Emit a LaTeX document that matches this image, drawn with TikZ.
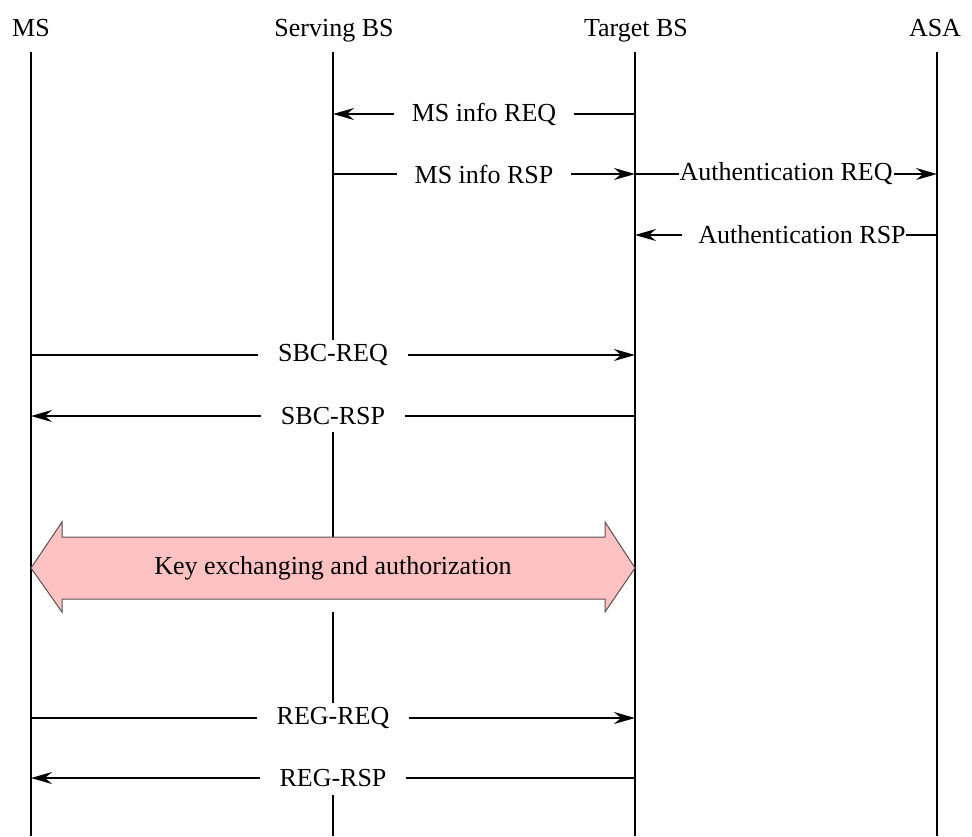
\documentclass[tikz,border=0pt]{standalone}
\usepackage{fontspec}
\setmainfont{Liberation Serif}
\usetikzlibrary{arrows.meta}
\definecolor{keypink}{RGB}{255,194,194}
\definecolor{keyedge}{RGB}{90,80,80}
\begin{document}
\begin{tikzpicture}[x=1pt,y=-1pt,line width=1.8pt,
  txt/.style={font=\fontsize{26}{30}\selectfont},
  head/.style={txt,inner sep=0pt,anchor=base},
  lbl/.style={txt,fill=white,inner xsep=18pt,inner ysep=2pt},
  msg/.style={draw,-{Stealth[length=21pt,width=12pt,inset=7pt]}},
  life/.style={draw,line width=1.8pt},
  keyarrow/.style={fill=keypink,draw=keyedge,line width=1pt,line join=miter}]
\useasboundingbox (0,0) rectangle (972,836);

% column headings
\node[head] (hms)  at (31,36)  {MS};
\node[head] (hsb)  at (334,36) {Serving BS};
\node[head] (htb)  at (636,36) {Target BS};
\node[head] (hasa) at (935,36) {ASA};

% lifelines
\coordinate (ms-top) at (31,52);   \coordinate (ms-bot) at (31,836);
\coordinate (tb-top) at (635,52);  \coordinate (tb-bot) at (635,836);
\coordinate (asa-top) at (937,52); \coordinate (asa-bot) at (937,836);
\draw[life] (ms-top) -- (ms-bot);
\draw[life] (tb-top) -- (tb-bot);
\draw[life] (asa-top) -- (asa-bot);
% serving BS lifeline, interrupted around the labels and the key exchange
\coordinate (sb-top) at (333,52);
\coordinate (sb-1) at (333,340);
\coordinate (sb-2) at (333,432);
\coordinate (sb-3) at (333,537);
\coordinate (sb-4) at (333,612);
\coordinate (sb-5) at (333,703);
\coordinate (sb-6) at (333,795);
\coordinate (sb-bot) at (333,836);
\draw[life] (sb-top) -- (sb-1);
\draw[life] (sb-2) -- (sb-3);
\draw[life] (sb-4) -- (sb-5);
\draw[life] (sb-6) -- (sb-bot);

% message anchors on the lifelines
\coordinate (sb-a) at (333,114); \coordinate (tb-a) at (635,114);
\coordinate (sb-b) at (333,174); \coordinate (tb-b) at (635,174); \coordinate (asa-b) at (937,174);
\coordinate (tb-c) at (635,235); \coordinate (asa-c) at (937,235);
\coordinate (ms-d) at (31,355);  \coordinate (tb-d) at (635,355);
\coordinate (ms-e) at (31,416);  \coordinate (tb-e) at (635,416);
\coordinate (ms-f) at (31,718);  \coordinate (tb-f) at (635,718);
\coordinate (ms-g) at (31,778);  \coordinate (tb-g) at (635,778);

% messages
\draw[msg] (tb-a) -- node[lbl] (l1) {MS info REQ} (sb-a);
\draw[msg] (sb-b) -- node[lbl] (l2) {MS info RSP} (tb-b);
\draw[msg] (tb-b) -- node[lbl,inner xsep=1pt] (l3) {Authentication REQ} (asa-b);
\draw[msg] (asa-c) -- node[lbl,inner xsep=0pt,xshift=8pt] (l4) {\hspace{16pt}Authentication RSP} (tb-c);
\draw[msg] (ms-d) -- node[lbl,inner xsep=20pt] (l5) {SBC-REQ} (tb-d);
\draw[msg] (tb-e) -- node[lbl,inner xsep=20pt] (l6) {SBC-RSP} (ms-e);

% key exchange double arrow
\coordinate (kx-l) at (31,568);
\coordinate (kx-r) at (635,568);
\path[keyarrow] (kx-l) -- (62,522) -- (62,537) -- (605,537) -- (605,522) -- (kx-r)
  -- (605,612) -- (605,599) -- (62,599) -- (62,612) -- cycle;
\node[txt] (kx) at (333,568) {Key exchanging and authorization};

\draw[msg] (ms-f) -- node[lbl,inner xsep=20pt] (l7) {REG-REQ} (tb-f);
\draw[msg] (tb-g) -- node[lbl,inner xsep=20pt] (l8) {REG-RSP} (ms-g);
\end{tikzpicture}
\end{document}
